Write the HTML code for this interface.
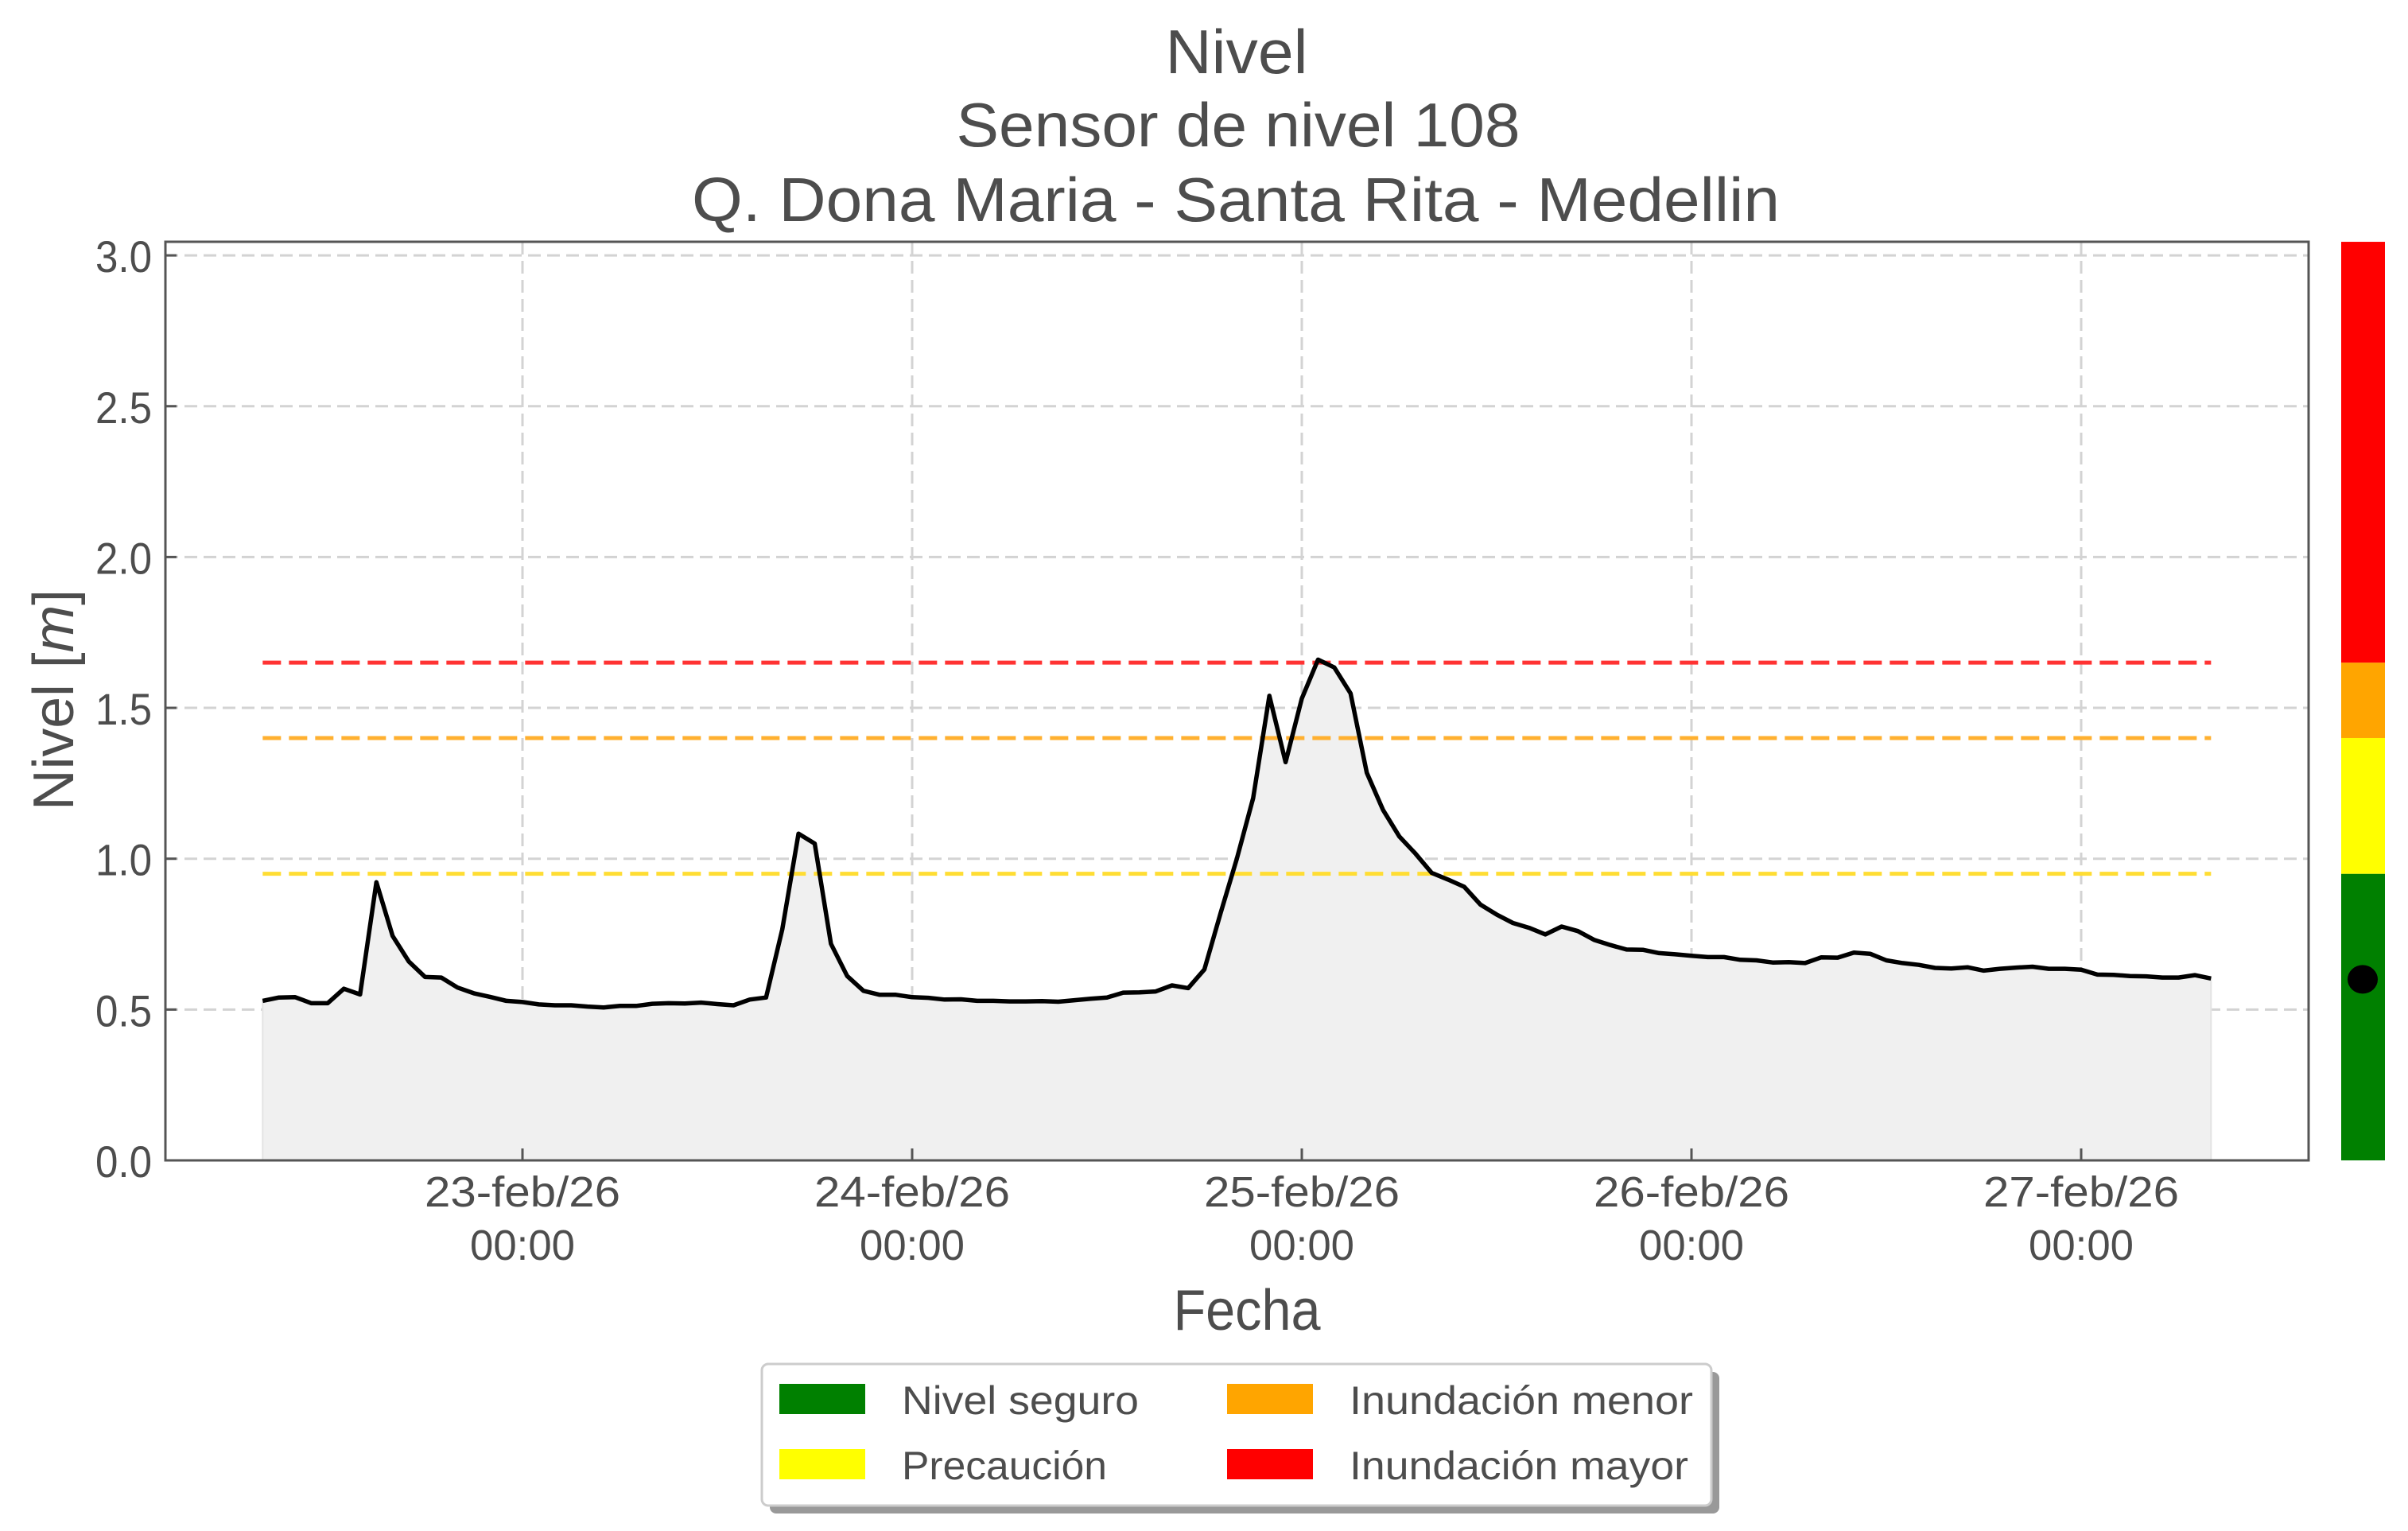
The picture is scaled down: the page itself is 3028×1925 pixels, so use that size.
<!DOCTYPE html>
<html><head><meta charset="utf-8"><style>
html,body{margin:0;padding:0;background:#fff;}
svg{display:block;}
text{font-family:"Liberation Sans",sans-serif;fill:#4d4d4d;}
</style></head><body>
<svg id="chart" width="3028" height="1925" viewBox="0 0 3028 1925" xmlns="http://www.w3.org/2000/svg">
<g>
<text x="1555" y="92" font-size="78" text-anchor="middle" textLength="179" lengthAdjust="spacingAndGlyphs">Nivel</text>
<text x="1557" y="184" font-size="78" text-anchor="middle" textLength="709" lengthAdjust="spacingAndGlyphs">Sensor de nivel 108</text>
<text x="1554" y="278" font-size="78" text-anchor="middle" textLength="1368" lengthAdjust="spacingAndGlyphs">Q. Dona Maria - Santa Rita - Medellin</text>
</g>
<g id="grid"></g>
<g id="fill"></g>
<g id="thresholds"></g>
<g id="series"></g>
<rect x="208" y="304" width="2695" height="1155" fill="none" stroke="#555" stroke-width="3"/>
<g id="yticks"></g>
<g id="xticks"></g>
<text transform="translate(92,880) rotate(-90)" font-size="72" text-anchor="middle" textLength="278" lengthAdjust="spacingAndGlyphs">Nivel [<tspan font-style="italic">m</tspan>]</text>
<text x="1568" y="1672" font-size="72" text-anchor="middle" textLength="185" lengthAdjust="spacingAndGlyphs">Fecha</text>
<g id="colorbar"></g>
<g>
<rect x="968" y="1725" width="1194" height="178" rx="8" fill="#999"/>
<rect x="958" y="1715" width="1194" height="178" rx="8" fill="#fff" stroke="#ccc" stroke-width="3"/>
<rect x="980" y="1740" width="108" height="38" fill="#008000"/>
<text x="1134" y="1778" font-size="50" textLength="298" lengthAdjust="spacingAndGlyphs">Nivel seguro</text>
<rect x="980" y="1822" width="108" height="38" fill="#ffff00"/>
<text x="1134" y="1860" font-size="50" textLength="258" lengthAdjust="spacingAndGlyphs">Precaución</text>
<rect x="1543" y="1740" width="108" height="38" fill="#ffa500"/>
<text x="1697" y="1778" font-size="50" textLength="432" lengthAdjust="spacingAndGlyphs">Inundación menor</text>
<rect x="1543" y="1822" width="108" height="38" fill="#ff0000"/>
<text x="1697" y="1860" font-size="50" textLength="426" lengthAdjust="spacingAndGlyphs">Inundación mayor</text>
</g>
</svg>
<script>
const hours = Array.from({length:121},(_, i)=>i);
const levels = [0.529,0.540,0.541,0.521,0.521,0.569,0.550,0.922,0.744,0.659,0.608,0.606,0.573,0.554,0.542,0.529,0.525,0.517,0.514,0.514,0.510,0.507,0.512,0.512,0.519,0.521,0.520,0.523,0.518,0.514,0.533,0.540,
0.766,1.083,1.050,0.718,0.611,0.562,0.549,0.549,0.541,0.539,0.533,0.534,0.529,0.529,0.527,0.527,0.528,0.526,0.531,0.536,0.540,0.556,0.557,0.560,0.580,0.571,0.633,0.82,1.0,
1.201,1.540,1.320,1.531,1.660,1.634,1.548,1.285,1.162,1.074,1.017,0.953,0.931,0.907,0.848,0.815,0.787,0.771,0.749,0.775,0.760,0.731,0.714,0.699,0.698,0.687,0.683,0.678,0.674,0.674,0.665,
0.663,0.656,0.657,0.654,0.673,0.672,0.689,0.685,0.663,0.654,0.648,0.638,0.636,0.640,0.629,0.635,0.639,0.642,0.635,0.635,0.632,0.616,0.615,0.611,0.610,0.606,0.606,0.614,0.603];
const thresholdValues = [0.95, 1.40, 1.65];
const thresholdColors = ['#ffdd33','#ffb030','#ff3333'];
const yTicks = [0.0,0.5,1.0,1.5,2.0,2.5,3.0];
const yTickLabels = ['0.0','0.5','1.0','1.5','2.0','2.5','3.0'];
const xTickHours = [16,40,64,88,112];
const xTickLabels = ['23-feb/26','24-feb/26','25-feb/26','26-feb/26','27-feb/26'];
const bandBounds = [0,0.95,1.40,1.65,3.045];
const bandColors = ['#008000','#ffff00','#ffa500','#ff0000'];
const currentLevel = 0.60;

const NS='http://www.w3.org/2000/svg';
const L=208,R=2903,T=304,B=1459;
function y(v){return 1459-v*379.3;}
function x(h){return 657+(h-16)*490/24;}
function mk(tag,attrs,parent){const e=document.createElementNS(NS,tag);for(const k in attrs)e.setAttribute(k,attrs[k]);parent.appendChild(e);return e;}
const grid=document.getElementById('grid');
yTicks.forEach(v=>{const l=mk('line',{x1:L,x2:R,y1:y(v),y2:y(v),stroke:'#d3d3d3','stroke-width':3,'stroke-dasharray':'16 8'},grid);

});
xTickHours.forEach(h=>{const l=mk('line',{x1:x(h),x2:x(h),y1:T,y2:B,stroke:'#d3d3d3','stroke-width':3,'stroke-dasharray':'16 8'},grid);

});
let d='M'+x(hours[0])+','+y(0);
hours.forEach((h,i)=>{d+=' L'+x(h).toFixed(1)+','+y(levels[i]).toFixed(1);});
d+=' L'+x(hours[hours.length-1])+','+y(0)+' Z';
const area=mk('path',{d:d,fill:'#f0f0f0',stroke:'#e3e3e3','stroke-width':2},document.getElementById('fill'));


thresholdValues.forEach((v,i)=>{const l=mk('line',{x1:x(0),x2:x(120),y1:y(v),y2:y(v),stroke:thresholdColors[i],'stroke-width':5,'stroke-dasharray':'23 10'},document.getElementById('thresholds'));

});
const pts=hours.map((h,i)=>x(h).toFixed(1)+','+y(levels[i]).toFixed(1)).join(' ');
const line=mk('polyline',{points:pts,fill:'none',stroke:'#000','stroke-width':5.5,'stroke-linejoin':'round'},document.getElementById('series'));


const yt=document.getElementById('yticks');
yTicks.forEach((v,i)=>{mk('line',{x1:L,x2:L+14,y1:y(v),y2:y(v),stroke:'#555','stroke-width':3},yt);
const t=mk('text',{x:191,y:y(v)+21,'font-size':56,'text-anchor':'end',textLength:71,lengthAdjust:'spacingAndGlyphs'},yt);t.textContent=yTickLabels[i];

});
const xt=document.getElementById('xticks');
xTickHours.forEach((h,i)=>{mk('line',{x1:x(h),x2:x(h),y1:B,y2:B-15,stroke:'#555','stroke-width':3},xt);
const t=mk('text',{x:x(h),y:1517,'font-size':54,'text-anchor':'middle',textLength:246,lengthAdjust:'spacingAndGlyphs'},xt);t.textContent=xTickLabels[i];


const t2=mk('text',{x:x(h),y:1584,'font-size':54,'text-anchor':'middle',textLength:132,lengthAdjust:'spacingAndGlyphs'},xt);t2.textContent='00:00';

});
const cb=document.getElementById('colorbar');
bandColors.forEach((c,i)=>{const r=mk('rect',{x:2944,width:55,y:y(bandBounds[i+1]),height:y(bandBounds[i])-y(bandBounds[i+1]),fill:c},cb);

});
const dot=mk('ellipse',{cx:2971,cy:y(currentLevel),rx:19,ry:18,fill:'#000'},cb);


</script>
</body></html>
